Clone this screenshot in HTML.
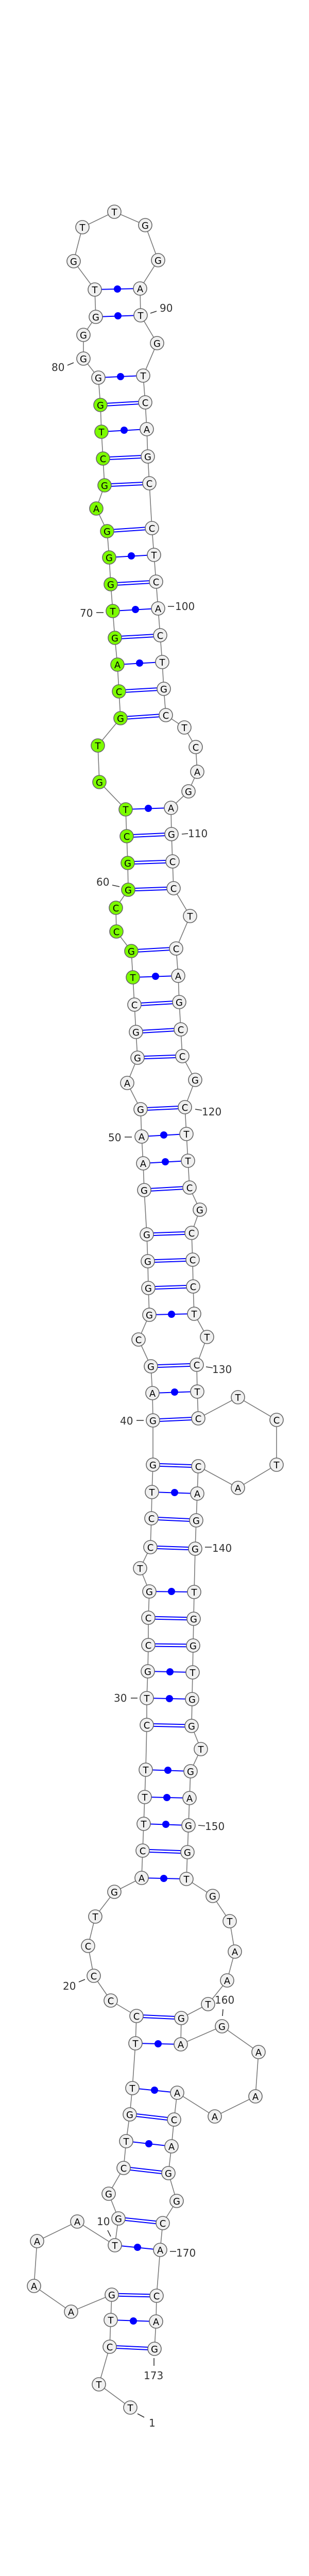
<!DOCTYPE html>
<html><head><meta charset="utf-8"><style>
html,body{margin:0;padding:0;background:#fff;width:600px;height:5101px;overflow:hidden;}
svg{display:block;}
.bb{fill:none;stroke:#7a7a7a;stroke-width:1.6;}
.dl1{stroke:#0000ff;stroke-width:7;}
.dl2{stroke:#fff;stroke-width:3;}
.sl{stroke:#0000ff;stroke-width:2;}
.dot{fill:#0000ff;}
.nc circle{fill:#f0f0f0;stroke:#666;stroke-width:1.6;}
.nc circle.g{fill:#7cfc00;}
.nt text{font-family:"DejaVu Sans","Liberation Sans",sans-serif;font-size:18px;text-anchor:middle;fill:#000;}
.lb text{font-family:"DejaVu Sans","Liberation Sans",sans-serif;font-size:20px;fill:#333;}
.tk{stroke:#333;stroke-width:1.6;}
</style></head><body>
<svg width="600" height="5101" viewBox="0 0 600 5101" xmlns="http://www.w3.org/2000/svg">
<polyline class="bb" points="253,4673 192,4628 213,4555 215,4503 217,4454 138,4487 66,4437 72,4350 150,4312 223,4358 230,4306 211,4258 240,4208 245,4156 252,4104 257,4053 263,3966 265,3913 215,3883 182,3835 171,3777 185,3720 222,3672 275,3645 277,3592 279,3540 281,3488 283,3435 285,3348 285,3296 287,3244 288,3193 288,3140 290,3089 272,3044 292,3003 294,2947 295,2896 297,2843 297,2757 296,2704 293,2652 269,2600 290,2552 288,2500 287,2448 285,2396 280,2310 278,2258 275,2206 273,2153 247,2102 267,2053 264,2003 261,1950 258,1897 255,1846 226,1808 225,1762 249,1727 248,1675 246,1623 244,1571 193,1518 190,1447 234,1394 231,1342 228,1290 223,1238 219,1186 215,1134 212,1082 208,1031 187,987 203,942 200,890 197,838 195,786 191,733 162,696 162,650 186,615 184,562 143,507 160,441 222,411 282,437 307,505 272,560 273,612 305,666 278,729 282,781 285,833 287,886 290,938 295,1025 299,1077 303,1129 307,1181 311,1233 315,1285 318,1337 322,1388 358,1412 380,1450 383,1498 366,1536 332,1568 333,1619 335,1672 337,1724 369,1778 342,1841 346,1894 348,1945 351,1998 354,2050 379,2096 359,2149 362,2201 365,2253 368,2305 388,2348 372,2393 374,2445 375,2497 377,2550 402,2595 382,2649 383,2701 385,2753 462,2712 537,2756 537,2843 462,2888 385,2846 383,2899 381,2951 379,3006 377,3090 376,3142 375,3194 374,3246 373,3298 372,3350 390,3395 370,3438 368,3490 366,3543 364,3595 362,3647 413,3680 446,3729 456,3788 441,3844 404,3890 352,3917 351,3968 431,3933 502,3983 496,4069 417,4108 344,4062 338,4114 333,4166 327,4218 343,4272 316,4315 311,4367 304,4456 303,4506 300,4559"/>
<g class="dl1">
<line x1="213" y1="4555" x2="300" y2="4559"/><line x1="217" y1="4454" x2="304" y2="4456"/><line x1="230" y1="4306" x2="316" y2="4315"/><line x1="240" y1="4208" x2="327" y2="4218"/><line x1="252" y1="4104" x2="338" y2="4114"/><line x1="265" y1="3913" x2="352" y2="3917"/><line x1="277" y1="3592" x2="364" y2="3595"/><line x1="285" y1="3348" x2="372" y2="3350"/><line x1="288" y1="3193" x2="375" y2="3194"/><line x1="288" y1="3140" x2="376" y2="3142"/><line x1="292" y1="3003" x2="379" y2="3006"/><line x1="294" y1="2947" x2="381" y2="2951"/><line x1="297" y1="2843" x2="385" y2="2846"/><line x1="297" y1="2757" x2="385" y2="2753"/><line x1="293" y1="2652" x2="382" y2="2649"/><line x1="288" y1="2500" x2="375" y2="2497"/><line x1="287" y1="2448" x2="374" y2="2445"/><line x1="285" y1="2396" x2="372" y2="2393"/><line x1="280" y1="2310" x2="368" y2="2305"/><line x1="273" y1="2153" x2="359" y2="2149"/><line x1="267" y1="2053" x2="354" y2="2050"/><line x1="264" y1="2003" x2="351" y2="1998"/><line x1="261" y1="1950" x2="348" y2="1945"/><line x1="255" y1="1846" x2="342" y2="1841"/><line x1="249" y1="1727" x2="337" y2="1724"/><line x1="248" y1="1675" x2="335" y2="1672"/><line x1="246" y1="1623" x2="333" y2="1619"/><line x1="234" y1="1394" x2="322" y2="1388"/><line x1="231" y1="1342" x2="318" y2="1337"/><line x1="223" y1="1238" x2="311" y2="1233"/><line x1="215" y1="1134" x2="303" y2="1129"/><line x1="208" y1="1031" x2="295" y2="1025"/><line x1="203" y1="942" x2="290" y2="938"/><line x1="200" y1="890" x2="287" y2="886"/><line x1="195" y1="786" x2="282" y2="781"/>
</g>
<g class="dl2">
<line x1="213" y1="4555" x2="300" y2="4559"/><line x1="217" y1="4454" x2="304" y2="4456"/><line x1="230" y1="4306" x2="316" y2="4315"/><line x1="240" y1="4208" x2="327" y2="4218"/><line x1="252" y1="4104" x2="338" y2="4114"/><line x1="265" y1="3913" x2="352" y2="3917"/><line x1="277" y1="3592" x2="364" y2="3595"/><line x1="285" y1="3348" x2="372" y2="3350"/><line x1="288" y1="3193" x2="375" y2="3194"/><line x1="288" y1="3140" x2="376" y2="3142"/><line x1="292" y1="3003" x2="379" y2="3006"/><line x1="294" y1="2947" x2="381" y2="2951"/><line x1="297" y1="2843" x2="385" y2="2846"/><line x1="297" y1="2757" x2="385" y2="2753"/><line x1="293" y1="2652" x2="382" y2="2649"/><line x1="288" y1="2500" x2="375" y2="2497"/><line x1="287" y1="2448" x2="374" y2="2445"/><line x1="285" y1="2396" x2="372" y2="2393"/><line x1="280" y1="2310" x2="368" y2="2305"/><line x1="273" y1="2153" x2="359" y2="2149"/><line x1="267" y1="2053" x2="354" y2="2050"/><line x1="264" y1="2003" x2="351" y2="1998"/><line x1="261" y1="1950" x2="348" y2="1945"/><line x1="255" y1="1846" x2="342" y2="1841"/><line x1="249" y1="1727" x2="337" y2="1724"/><line x1="248" y1="1675" x2="335" y2="1672"/><line x1="246" y1="1623" x2="333" y2="1619"/><line x1="234" y1="1394" x2="322" y2="1388"/><line x1="231" y1="1342" x2="318" y2="1337"/><line x1="223" y1="1238" x2="311" y2="1233"/><line x1="215" y1="1134" x2="303" y2="1129"/><line x1="208" y1="1031" x2="295" y2="1025"/><line x1="203" y1="942" x2="290" y2="938"/><line x1="200" y1="890" x2="287" y2="886"/><line x1="195" y1="786" x2="282" y2="781"/>
</g>
<g class="sl">
<line x1="215" y1="4503" x2="303" y2="4506"/><line x1="223" y1="4358" x2="311" y2="4367"/><line x1="245" y1="4156" x2="333" y2="4166"/><line x1="257" y1="4053" x2="344" y2="4062"/><line x1="263" y1="3966" x2="351" y2="3968"/><line x1="275" y1="3645" x2="362" y2="3647"/><line x1="279" y1="3540" x2="366" y2="3543"/><line x1="281" y1="3488" x2="368" y2="3490"/><line x1="283" y1="3435" x2="370" y2="3438"/><line x1="285" y1="3296" x2="373" y2="3298"/><line x1="287" y1="3244" x2="374" y2="3246"/><line x1="290" y1="3089" x2="377" y2="3090"/><line x1="295" y1="2896" x2="383" y2="2899"/><line x1="296" y1="2704" x2="383" y2="2701"/><line x1="290" y1="2552" x2="377" y2="2550"/><line x1="278" y1="2258" x2="365" y2="2253"/><line x1="275" y1="2206" x2="362" y2="2201"/><line x1="258" y1="1897" x2="346" y2="1894"/><line x1="244" y1="1571" x2="332" y2="1568"/><line x1="228" y1="1290" x2="315" y2="1285"/><line x1="219" y1="1186" x2="307" y2="1181"/><line x1="212" y1="1082" x2="299" y2="1077"/><line x1="197" y1="838" x2="285" y2="833"/><line x1="191" y1="733" x2="278" y2="729"/><line x1="186" y1="615" x2="273" y2="612"/><line x1="184" y1="562" x2="272" y2="560"/>
</g>
<g class="dot">
<circle cx="259" cy="4505" r="7"/><circle cx="267" cy="4362" r="7"/><circle cx="289" cy="4161" r="7"/><circle cx="300" cy="4057" r="7"/><circle cx="307" cy="3967" r="7"/><circle cx="318" cy="3646" r="7"/><circle cx="322" cy="3541" r="7"/><circle cx="324" cy="3489" r="7"/><circle cx="326" cy="3436" r="7"/><circle cx="329" cy="3297" r="7"/><circle cx="330" cy="3245" r="7"/><circle cx="333" cy="3089" r="7"/><circle cx="339" cy="2897" r="7"/><circle cx="339" cy="2702" r="7"/><circle cx="333" cy="2551" r="7"/><circle cx="321" cy="2255" r="7"/><circle cx="318" cy="2203" r="7"/><circle cx="302" cy="1895" r="7"/><circle cx="288" cy="1569" r="7"/><circle cx="271" cy="1287" r="7"/><circle cx="263" cy="1183" r="7"/><circle cx="255" cy="1079" r="7"/><circle cx="241" cy="835" r="7"/><circle cx="234" cy="731" r="7"/><circle cx="229" cy="613" r="7"/><circle cx="228" cy="561" r="7"/>
</g>
<g class="nc">
<circle cx="253" cy="4673" r="13"/><circle cx="192" cy="4628" r="13"/><circle cx="213" cy="4555" r="13"/><circle cx="215" cy="4503" r="13"/><circle cx="217" cy="4454" r="13"/><circle cx="138" cy="4487" r="13"/><circle cx="66" cy="4437" r="13"/><circle cx="72" cy="4350" r="13"/><circle cx="150" cy="4312" r="13"/><circle cx="223" cy="4358" r="13"/><circle cx="230" cy="4306" r="13"/><circle cx="211" cy="4258" r="13"/><circle cx="240" cy="4208" r="13"/><circle cx="245" cy="4156" r="13"/><circle cx="252" cy="4104" r="13"/><circle cx="257" cy="4053" r="13"/><circle cx="263" cy="3966" r="13"/><circle cx="265" cy="3913" r="13"/><circle cx="215" cy="3883" r="13"/><circle cx="182" cy="3835" r="13"/><circle cx="171" cy="3777" r="13"/><circle cx="185" cy="3720" r="13"/><circle cx="222" cy="3672" r="13"/><circle cx="275" cy="3645" r="13"/><circle cx="277" cy="3592" r="13"/><circle cx="279" cy="3540" r="13"/><circle cx="281" cy="3488" r="13"/><circle cx="283" cy="3435" r="13"/><circle cx="285" cy="3348" r="13"/><circle cx="285" cy="3296" r="13"/><circle cx="287" cy="3244" r="13"/><circle cx="288" cy="3193" r="13"/><circle cx="288" cy="3140" r="13"/><circle cx="290" cy="3089" r="13"/><circle cx="272" cy="3044" r="13"/><circle cx="292" cy="3003" r="13"/><circle cx="294" cy="2947" r="13"/><circle cx="295" cy="2896" r="13"/><circle cx="297" cy="2843" r="13"/><circle cx="297" cy="2757" r="13"/><circle cx="296" cy="2704" r="13"/><circle cx="293" cy="2652" r="13"/><circle cx="269" cy="2600" r="13"/><circle cx="290" cy="2552" r="13"/><circle cx="288" cy="2500" r="13"/><circle cx="287" cy="2448" r="13"/><circle cx="285" cy="2396" r="13"/><circle cx="280" cy="2310" r="13"/><circle cx="278" cy="2258" r="13"/><circle cx="275" cy="2206" r="13"/><circle cx="273" cy="2153" r="13"/><circle cx="247" cy="2102" r="13"/><circle cx="267" cy="2053" r="13"/><circle cx="264" cy="2003" r="13"/><circle cx="261" cy="1950" r="13"/>
<circle class="g" cx="258" cy="1897" r="13"/><circle class="g" cx="255" cy="1846" r="13"/><circle class="g" cx="226" cy="1808" r="13"/><circle class="g" cx="225" cy="1762" r="13"/><circle class="g" cx="249" cy="1727" r="13"/><circle class="g" cx="248" cy="1675" r="13"/><circle class="g" cx="246" cy="1623" r="13"/><circle class="g" cx="244" cy="1571" r="13"/><circle class="g" cx="193" cy="1518" r="13"/><circle class="g" cx="190" cy="1447" r="13"/><circle class="g" cx="234" cy="1394" r="13"/><circle class="g" cx="231" cy="1342" r="13"/><circle class="g" cx="228" cy="1290" r="13"/><circle class="g" cx="223" cy="1238" r="13"/><circle class="g" cx="219" cy="1186" r="13"/><circle class="g" cx="215" cy="1134" r="13"/><circle class="g" cx="212" cy="1082" r="13"/><circle class="g" cx="208" cy="1031" r="13"/><circle class="g" cx="187" cy="987" r="13"/><circle class="g" cx="203" cy="942" r="13"/><circle class="g" cx="200" cy="890" r="13"/><circle class="g" cx="197" cy="838" r="13"/><circle class="g" cx="195" cy="786" r="13"/>
<circle cx="191" cy="733" r="13"/><circle cx="162" cy="696" r="13"/><circle cx="162" cy="650" r="13"/><circle cx="186" cy="615" r="13"/><circle cx="184" cy="562" r="13"/><circle cx="143" cy="507" r="13"/><circle cx="160" cy="441" r="13"/><circle cx="222" cy="411" r="13"/><circle cx="282" cy="437" r="13"/><circle cx="307" cy="505" r="13"/><circle cx="272" cy="560" r="13"/><circle cx="273" cy="612" r="13"/><circle cx="305" cy="666" r="13"/><circle cx="278" cy="729" r="13"/><circle cx="282" cy="781" r="13"/><circle cx="285" cy="833" r="13"/><circle cx="287" cy="886" r="13"/><circle cx="290" cy="938" r="13"/><circle cx="295" cy="1025" r="13"/><circle cx="299" cy="1077" r="13"/><circle cx="303" cy="1129" r="13"/><circle cx="307" cy="1181" r="13"/><circle cx="311" cy="1233" r="13"/><circle cx="315" cy="1285" r="13"/><circle cx="318" cy="1337" r="13"/><circle cx="322" cy="1388" r="13"/><circle cx="358" cy="1412" r="13"/><circle cx="380" cy="1450" r="13"/><circle cx="383" cy="1498" r="13"/><circle cx="366" cy="1536" r="13"/><circle cx="332" cy="1568" r="13"/><circle cx="333" cy="1619" r="13"/><circle cx="335" cy="1672" r="13"/><circle cx="337" cy="1724" r="13"/><circle cx="369" cy="1778" r="13"/><circle cx="342" cy="1841" r="13"/><circle cx="346" cy="1894" r="13"/><circle cx="348" cy="1945" r="13"/><circle cx="351" cy="1998" r="13"/><circle cx="354" cy="2050" r="13"/><circle cx="379" cy="2096" r="13"/><circle cx="359" cy="2149" r="13"/><circle cx="362" cy="2201" r="13"/><circle cx="365" cy="2253" r="13"/><circle cx="368" cy="2305" r="13"/><circle cx="388" cy="2348" r="13"/><circle cx="372" cy="2393" r="13"/><circle cx="374" cy="2445" r="13"/><circle cx="375" cy="2497" r="13"/><circle cx="377" cy="2550" r="13"/><circle cx="402" cy="2595" r="13"/><circle cx="382" cy="2649" r="13"/><circle cx="383" cy="2701" r="13"/><circle cx="385" cy="2753" r="13"/><circle cx="462" cy="2712" r="13"/><circle cx="537" cy="2756" r="13"/><circle cx="537" cy="2843" r="13"/><circle cx="462" cy="2888" r="13"/><circle cx="385" cy="2846" r="13"/><circle cx="383" cy="2899" r="13"/><circle cx="381" cy="2951" r="13"/><circle cx="379" cy="3006" r="13"/><circle cx="377" cy="3090" r="13"/><circle cx="376" cy="3142" r="13"/><circle cx="375" cy="3194" r="13"/><circle cx="374" cy="3246" r="13"/><circle cx="373" cy="3298" r="13"/><circle cx="372" cy="3350" r="13"/><circle cx="390" cy="3395" r="13"/><circle cx="370" cy="3438" r="13"/><circle cx="368" cy="3490" r="13"/><circle cx="366" cy="3543" r="13"/><circle cx="364" cy="3595" r="13"/><circle cx="362" cy="3647" r="13"/><circle cx="413" cy="3680" r="13"/><circle cx="446" cy="3729" r="13"/><circle cx="456" cy="3788" r="13"/><circle cx="441" cy="3844" r="13"/><circle cx="404" cy="3890" r="13"/><circle cx="352" cy="3917" r="13"/><circle cx="351" cy="3968" r="13"/><circle cx="431" cy="3933" r="13"/><circle cx="502" cy="3983" r="13"/><circle cx="496" cy="4069" r="13"/><circle cx="417" cy="4108" r="13"/><circle cx="344" cy="4062" r="13"/><circle cx="338" cy="4114" r="13"/><circle cx="333" cy="4166" r="13"/><circle cx="327" cy="4218" r="13"/><circle cx="343" cy="4272" r="13"/><circle cx="316" cy="4315" r="13"/><circle cx="311" cy="4367" r="13"/><circle cx="304" cy="4456" r="13"/><circle cx="303" cy="4506" r="13"/><circle cx="300" cy="4559" r="13"/>
</g>
<g class="nt">
<text x="253" y="4680">T</text><text x="192" y="4635">T</text><text x="213" y="4562">C</text><text x="215" y="4510">T</text><text x="217" y="4461">G</text><text x="138" y="4494">A</text><text x="66" y="4444">A</text><text x="72" y="4357">A</text><text x="150" y="4319">A</text><text x="223" y="4365">T</text><text x="230" y="4313">G</text><text x="211" y="4265">G</text><text x="240" y="4215">C</text><text x="245" y="4163">T</text><text x="252" y="4111">G</text><text x="257" y="4060">T</text><text x="263" y="3973">T</text><text x="265" y="3920">C</text><text x="215" y="3890">C</text><text x="182" y="3842">C</text><text x="171" y="3784">C</text><text x="185" y="3727">T</text><text x="222" y="3679">G</text><text x="275" y="3652">A</text><text x="277" y="3599">C</text><text x="279" y="3547">T</text><text x="281" y="3495">T</text><text x="283" y="3442">T</text><text x="285" y="3355">C</text><text x="285" y="3303">T</text><text x="287" y="3251">G</text><text x="288" y="3200">C</text><text x="288" y="3147">C</text><text x="290" y="3096">G</text><text x="272" y="3051">T</text><text x="292" y="3010">C</text><text x="294" y="2954">C</text><text x="295" y="2903">T</text><text x="297" y="2850">G</text><text x="297" y="2764">G</text><text x="296" y="2711">A</text><text x="293" y="2659">G</text><text x="269" y="2607">C</text><text x="290" y="2559">G</text><text x="288" y="2507">G</text><text x="287" y="2455">G</text><text x="285" y="2403">G</text><text x="280" y="2317">G</text><text x="278" y="2265">A</text><text x="275" y="2213">A</text><text x="273" y="2160">G</text><text x="247" y="2109">A</text><text x="267" y="2060">G</text><text x="264" y="2010">G</text><text x="261" y="1957">C</text><text x="258" y="1904">T</text><text x="255" y="1853">G</text><text x="226" y="1815">C</text><text x="225" y="1769">C</text><text x="249" y="1734">G</text><text x="248" y="1682">G</text><text x="246" y="1630">C</text><text x="244" y="1578">T</text><text x="193" y="1525">G</text><text x="190" y="1454">T</text><text x="234" y="1401">G</text><text x="231" y="1349">C</text><text x="228" y="1297">A</text><text x="223" y="1245">G</text><text x="219" y="1193">T</text><text x="215" y="1141">G</text><text x="212" y="1089">G</text><text x="208" y="1038">G</text><text x="187" y="994">A</text><text x="203" y="949">G</text><text x="200" y="897">C</text><text x="197" y="845">T</text><text x="195" y="793">G</text><text x="191" y="740">G</text><text x="162" y="703">G</text><text x="162" y="657">G</text><text x="186" y="622">G</text><text x="184" y="569">T</text><text x="143" y="514">G</text><text x="160" y="448">T</text><text x="222" y="418">T</text><text x="282" y="444">G</text><text x="307" y="512">G</text><text x="272" y="567">A</text><text x="273" y="619">T</text><text x="305" y="673">G</text><text x="278" y="736">T</text><text x="282" y="788">C</text><text x="285" y="840">A</text><text x="287" y="893">G</text><text x="290" y="945">C</text><text x="295" y="1032">C</text><text x="299" y="1084">T</text><text x="303" y="1136">C</text><text x="307" y="1188">A</text><text x="311" y="1240">C</text><text x="315" y="1292">T</text><text x="318" y="1344">G</text><text x="322" y="1395">C</text><text x="358" y="1419">T</text><text x="380" y="1457">C</text><text x="383" y="1505">A</text><text x="366" y="1543">G</text><text x="332" y="1575">A</text><text x="333" y="1626">G</text><text x="335" y="1679">C</text><text x="337" y="1731">C</text><text x="369" y="1785">T</text><text x="342" y="1848">C</text><text x="346" y="1901">A</text><text x="348" y="1952">G</text><text x="351" y="2005">C</text><text x="354" y="2057">C</text><text x="379" y="2103">G</text><text x="359" y="2156">C</text><text x="362" y="2208">T</text><text x="365" y="2260">T</text><text x="368" y="2312">C</text><text x="388" y="2355">G</text><text x="372" y="2400">C</text><text x="374" y="2452">C</text><text x="375" y="2504">C</text><text x="377" y="2557">T</text><text x="402" y="2602">T</text><text x="382" y="2656">C</text><text x="383" y="2708">T</text><text x="385" y="2760">C</text><text x="462" y="2719">T</text><text x="537" y="2763">C</text><text x="537" y="2850">T</text><text x="462" y="2895">A</text><text x="385" y="2853">C</text><text x="383" y="2906">A</text><text x="381" y="2958">G</text><text x="379" y="3013">G</text><text x="377" y="3097">T</text><text x="376" y="3149">G</text><text x="375" y="3201">G</text><text x="374" y="3253">T</text><text x="373" y="3305">G</text><text x="372" y="3357">G</text><text x="390" y="3402">T</text><text x="370" y="3445">G</text><text x="368" y="3497">A</text><text x="366" y="3550">G</text><text x="364" y="3602">G</text><text x="362" y="3654">T</text><text x="413" y="3687">G</text><text x="446" y="3736">T</text><text x="456" y="3795">A</text><text x="441" y="3851">A</text><text x="404" y="3897">T</text><text x="352" y="3924">G</text><text x="351" y="3975">A</text><text x="431" y="3940">G</text><text x="502" y="3990">A</text><text x="496" y="4076">A</text><text x="417" y="4115">A</text><text x="344" y="4069">A</text><text x="338" y="4121">C</text><text x="333" y="4173">A</text><text x="327" y="4225">G</text><text x="343" y="4279">G</text><text x="316" y="4322">C</text><text x="311" y="4374">A</text><text x="304" y="4463">C</text><text x="303" y="4513">A</text><text x="300" y="4566">G</text>
</g>
<g class="tk">
<line x1="292" y1="608" x2="304" y2="604"/><line x1="131" y1="709" x2="143" y2="704"/><line x1="187" y1="1189" x2="201" y2="1189"/><line x1="326" y1="1177" x2="338" y2="1177"/><line x1="353" y1="1619" x2="365" y2="1618"/><line x1="218" y1="1718" x2="232" y2="1721"/><line x1="379" y1="2153" x2="392" y2="2155"/><line x1="242" y1="2207" x2="256" y2="2207"/><line x1="400" y1="2653" x2="413" y2="2655"/><line x1="265" y1="2757" x2="279" y2="2757"/><line x1="398" y1="3003" x2="411" y2="3003"/><line x1="254" y1="3296" x2="267" y2="3296"/><line x1="385" y1="3543" x2="398" y2="3544"/><line x1="153" y1="3847" x2="165" y2="3842"/><line x1="433" y1="3900" x2="432" y2="3913"/><line x1="209" y1="4329" x2="215" y2="4341"/><line x1="330" y1="4370" x2="342" y2="4370"/><line x1="299" y1="4577" x2="299" y2="4592"/><line x1="267" y1="4685" x2="280" y2="4692"/>
</g>
<g class="lb">
<text x="310" y="605">90</text><text x="100" y="720">80</text><text x="155" y="1197">70</text><text x="340" y="1184">100</text><text x="365" y="1625">110</text><text x="187" y="1719">60</text><text x="392" y="2165">120</text><text x="210" y="2215">50</text><text x="412" y="2665">130</text><text x="233" y="2765">40</text><text x="412" y="3012">140</text><text x="221" y="3303">30</text><text x="398" y="3552">150</text><text x="122" y="3862">20</text><text x="417" y="3889">160</text><text x="188" y="4319">10</text><text x="342" y="4380">170</text><text x="279" y="4618">173</text><text x="289" y="4710">1</text>
</g>
<text x="301" y="5095" text-anchor="middle" font-family="DejaVu Sans, Liberation Sans, sans-serif" font-size="11" font-weight="bold" fill="#000">eca-mir-9151_annot [-72.9]</text>
</svg>
</body></html>
